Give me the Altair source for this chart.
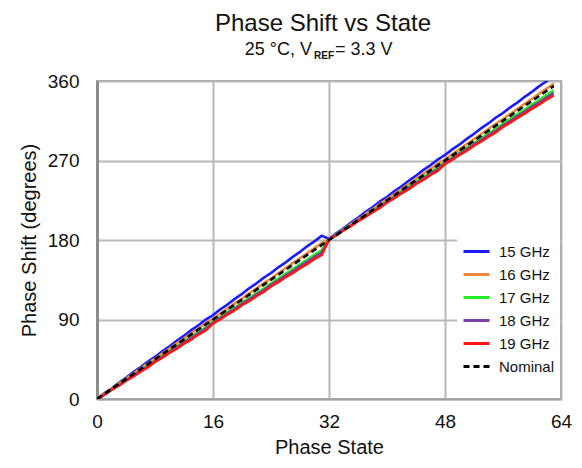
import altair as alt
import pandas as pd

# ---- data ----
states = list(range(64))
series_names = ["15 GHz", "16 GHz", "17 GHz", "18 GHz", "19 GHz", "Nominal"]
series_colors = ["#1a1aff", "#ee8a3e", "#22ee22", "#7b3fa6", "#ff1414", "#000000"]

ghz15 = [0, 6.4, 11.9, 18.3, 24.0, 30.4, 35.9, 42.3, 47.6, 54.0, 59.5, 65.9, 71.6, 78.0, 83.5, 89.9,
         95.0, 101.4, 106.9, 113.3, 119.0, 125.4, 130.9, 137.3, 142.6, 149.0, 154.5, 160.9, 166.6, 173.0, 178.5, 184.9,
         181.2, 187.6, 193.1, 199.5, 205.2, 211.6, 217.1, 223.5, 228.8, 235.2, 240.7, 247.1, 252.8, 259.2, 264.7, 271.1,
         276.2, 282.6, 288.1, 294.5, 300.2, 306.6, 312.1, 318.5, 323.8, 330.2, 335.7, 342.1, 347.8, 354.2, 359.7, 366.1]
ghz16 = [0, 5.9, 11.5, 17.4, 22.9, 28.8, 34.4, 40.3, 45.6, 51.5, 57.1, 63.0, 68.5, 74.4, 80.0, 85.9,
         90.8, 96.7, 102.3, 108.2, 113.7, 119.6, 125.2, 131.1, 136.4, 142.3, 147.9, 153.8, 159.3, 165.2, 170.8, 176.7,
         180.5, 186.4, 192.0, 197.9, 203.4, 209.3, 214.9, 220.8, 226.1, 232.0, 237.6, 243.5, 249.0, 254.9, 260.5, 266.4,
         271.3, 277.2, 282.8, 288.7, 294.2, 300.1, 305.7, 311.6, 316.9, 322.8, 328.4, 334.3, 339.8, 345.7, 351.3, 357.2]
ghz17 = [0, 5.2, 10.8, 16.0, 21.6, 26.8, 32.4, 37.6, 43.5, 48.7, 54.3, 59.5, 65.1, 70.3, 75.9, 81.1,
         87.5, 92.7, 98.3, 103.5, 109.1, 114.3, 119.9, 125.1, 131.0, 136.2, 141.8, 147.0, 152.6, 157.8, 163.4, 168.6,
         180.8, 186.0, 191.6, 196.8, 202.4, 207.6, 213.2, 218.4, 224.3, 229.5, 235.1, 240.3, 245.9, 251.1, 256.7, 261.9,
         268.3, 273.5, 279.1, 284.3, 289.9, 295.1, 300.7, 305.9, 311.8, 317.0, 322.6, 327.8, 333.4, 338.6, 344.2, 349.4]
ghz18 = [0, 5.0, 10.5, 15.5, 21.2, 26.2, 31.7, 36.7, 42.7, 47.7, 53.2, 58.2, 63.9, 68.9, 74.4, 79.4,
         86.5, 91.5, 97.0, 102.0, 107.7, 112.7, 118.2, 123.2, 129.2, 134.2, 139.7, 144.7, 150.4, 155.4, 160.9, 165.9,
         180.5, 185.5, 191.0, 196.0, 201.7, 206.7, 212.2, 217.2, 223.2, 228.2, 233.7, 238.7, 244.4, 249.4, 254.9, 259.9,
         267.0, 272.0, 277.5, 282.5, 288.2, 293.2, 298.7, 303.7, 309.7, 314.7, 320.2, 325.2, 330.9, 335.9, 341.4, 346.4]
ghz19 = [0, 4.7, 10.3, 15.0, 20.7, 25.4, 31.0, 35.7, 42.0, 46.7, 52.3, 57.0, 62.7, 67.4, 73.0, 77.7,
         85.5, 90.2, 95.8, 100.5, 106.2, 110.9, 116.5, 121.2, 127.5, 132.2, 137.8, 142.5, 148.2, 152.9, 158.5, 163.2,
         180.6, 185.3, 190.9, 195.6, 201.3, 206.0, 211.6, 216.3, 222.6, 227.3, 232.9, 237.6, 243.3, 248.0, 253.6, 258.3,
         266.1, 270.8, 276.4, 281.1, 286.8, 291.5, 297.1, 301.8, 308.1, 312.8, 318.4, 323.1, 328.8, 333.5, 339.1, 343.8]
nominal = [0, 5.6, 11.3, 16.9, 22.5, 28.1, 33.8, 39.4, 45.0, 50.6, 56.3, 61.9, 67.5, 73.1, 78.8, 84.4,
           90.0, 95.6, 101.3, 106.9, 112.5, 118.1, 123.8, 129.4, 135.0, 140.6, 146.3, 151.9, 157.5, 163.1, 168.8, 174.4,
           180.0, 185.6, 191.3, 196.9, 202.5, 208.1, 213.8, 219.4, 225.0, 230.6, 236.3, 241.9, 247.5, 253.1, 258.8, 264.4,
           270.0, 275.6, 281.3, 286.9, 292.5, 298.1, 303.8, 309.4, 315.0, 320.6, 326.3, 331.9, 337.5, 343.1, 348.8, 354.4]

x_ticks = [0, 16, 32, 48, 64]
y_ticks = [0, 90, 180, 270, 360]

title_text = ["Phase Shift vs State"]
sub_left = ["25 °C, V"]
sub_sub = ["REF"]
sub_right = ["= 3.3 V"]

FONT = "Liberation Sans"

all_series = [ghz15, ghz16, ghz17, ghz18, ghz19, nominal]
rows = []
for name, vals in zip(series_names, all_series):
    for s, v in zip(states, vals):
        rows.append({"state": s, "phase": v, "series": name})
df = pd.DataFrame(rows)

x_enc = alt.X("state:Q", scale=alt.Scale(domain=[0, 64], nice=False),
              axis=alt.Axis(values=x_ticks, title="Phase State", format="d"))
y_enc = alt.Y("phase:Q", scale=alt.Scale(domain=[0, 360], nice=False),
              axis=alt.Axis(values=y_ticks, title="Phase Shift (degrees)", format="d"))
color_enc = alt.Color("series:N",
                      scale=alt.Scale(domain=series_names, range=series_colors),
                      legend=alt.Legend(orient="none", legendX=360, legendY=151, title=None,
                                        fillColor="white", padding=5, symbolType="stroke",
                                        symbolSize=676, symbolStrokeWidth=3, labelFontSize=15,
                                        labelFont=FONT, labelColor="#111111", labelOffset=8,
                                        rowPadding=-2))
dash_enc = alt.StrokeDash("series:N",
                          scale=alt.Scale(domain=series_names,
                                          range=[[1, 0], [1, 0], [1, 0], [1, 0], [1, 0], [6, 4]]),
                          legend=alt.Legend(orient="none", legendX=360, legendY=151, title=None))

layers = []
for name in series_names:
    layers.append(
        alt.Chart(df).transform_filter(alt.datum.series == name)
        .mark_line(strokeWidth=2.6, clip=True)
        .encode(x=x_enc, y=y_enc, color=color_enc, strokeDash=dash_enc)
    )

def text_layer(vals, **kw):
    pos = {k: kw.pop(k) for k in ["px", "py"]}
    return alt.Chart(pd.DataFrame({"t": vals})).mark_text(font=FONT, baseline="alphabetic", color="#111111", **kw).encode(
        text="t:N", x=alt.value(pos["px"]), y=alt.value(pos["py"]))

layers.append(text_layer(title_text, px=226, py=-50, fontSize=24, align="center"))
layers.append(text_layer(sub_left, px=215, py=-26, fontSize=18, align="right"))
layers.append(text_layer(sub_sub, px=217, py=-22, fontSize=10, fontWeight="bold", align="left"))
layers.append(text_layer(sub_right, px=238, py=-26, fontSize=18, align="left"))

chart = alt.layer(*layers).properties(
    width=464, height=318,
    padding={"left": 89, "top": 73, "right": 13, "bottom": 61},
    autosize=alt.AutoSizeParams(type="none"),
).configure_view(
    stroke="#a0a0a0", strokeWidth=2
).configure_axis(
    labelFont=FONT, titleFont=FONT, labelColor="#111111", titleColor="#111111",
    titleFontWeight="normal", ticks=False, grid=True, gridColor="#b8b8b8", gridWidth=2,
    labelFlush=False,
).configure_axisX(
    labelFontSize=19, titleFontSize=20, labelPadding=13, titlePadding=6,
    domainColor="#a0a0a0", domainWidth=2,
).configure_axisY(
    labelFontSize=19, titleFontSize=20, labelPadding=18, titlePadding=8,
    domainColor="#8c8c8c", domainWidth=3,
)

chart.save("out.html", embed_options={"renderer": "svg", "actions": False})
